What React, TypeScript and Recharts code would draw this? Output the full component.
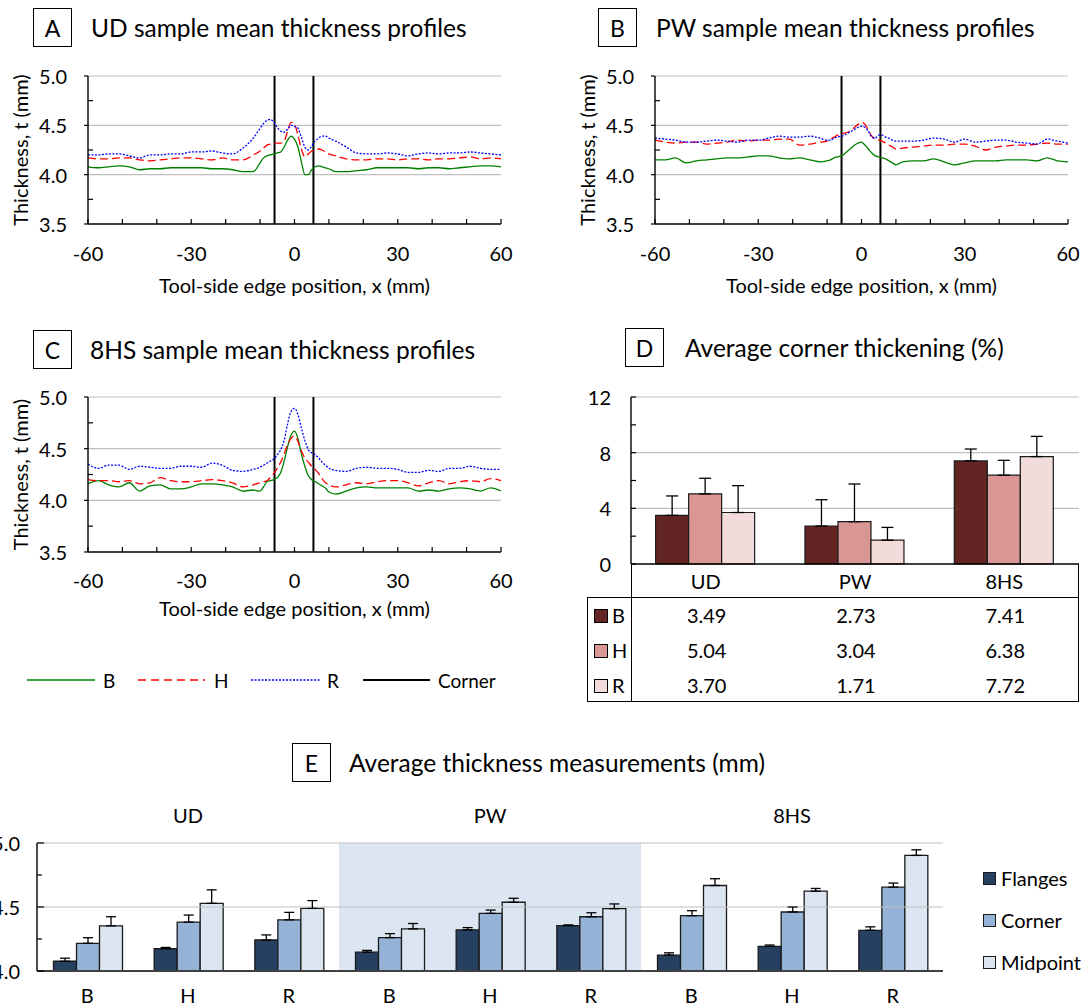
import React from "react";
import {
  Bar,
  BarChart,
  CartesianGrid,
  ErrorBar,
  Line,
  LineChart,
  ReferenceArea,
  ReferenceLine,
  XAxis,
  YAxis,
} from "recharts";

const FONT = "Lato, 'Liberation Sans', sans-serif";

// tool-side edge position (mm), shared by the three profile panels
const X_MM = [
  -60, -57, -54, -51, -48, -45, -42, -39, -36, -33, -30, -27, -24, -21, -18, -15, -12,
  -10, -9, -8, -7, -6, -5, -4, -3, -2, -1, 0, 1, 2, 3, 4, 5, 6, 7, 8, 9, 10,
  12, 15, 18, 21, 24, 27, 30, 33, 36, 39, 42, 45, 48, 51, 54, 57, 60,
];

// A: UD
const UD_B = [
  4.08, 4.07, 4.08, 4.09, 4.08, 4.05, 4.06, 4.06, 4.07, 4.07, 4.07, 4.07, 4.06, 4.06, 4.05, 4.03, 4.03,
  4.12, 4.17, 4.19, 4.2, 4.21, 4.22, 4.23, 4.28, 4.35, 4.39, 4.36, 4.28, 4.13, 4.0, 4.0, 4.05, 4.08, 4.09, 4.08, 4.07, 4.06,
  4.03, 4.03, 4.04, 4.05, 4.07, 4.07, 4.07, 4.07, 4.06, 4.07, 4.07, 4.06, 4.07, 4.08, 4.09, 4.09, 4.08,
];
const UD_H = [
  4.17, 4.16, 4.16, 4.17, 4.17, 4.15, 4.14, 4.15, 4.16, 4.17, 4.17, 4.16, 4.15, 4.17, 4.15, 4.15, 4.2,
  4.24, 4.27, 4.3, 4.31, 4.32, 4.32, 4.32, 4.34, 4.44, 4.53, 4.51, 4.4, 4.26, 4.18, 4.21, 4.24, 4.25, 4.26, 4.25, 4.23, 4.21,
  4.19, 4.16, 4.15, 4.15, 4.16, 4.16, 4.15, 4.16, 4.16, 4.15, 4.16, 4.16, 4.17, 4.18, 4.16, 4.17, 4.16,
];
const UD_R = [
  4.2, 4.2, 4.21, 4.21, 4.19, 4.17, 4.2, 4.2, 4.21, 4.21, 4.23, 4.23, 4.24, 4.22, 4.21, 4.27, 4.37,
  4.47, 4.52, 4.55, 4.56, 4.53, 4.48, 4.44, 4.43, 4.46, 4.5, 4.49, 4.47, 4.38, 4.28, 4.25, 4.29, 4.34, 4.37, 4.39, 4.39, 4.37,
  4.34, 4.28, 4.22, 4.21, 4.21, 4.22, 4.21, 4.19, 4.21, 4.22, 4.21, 4.22, 4.22, 4.23, 4.22, 4.21, 4.2,
];

// B: PW
const PW_B = [
  4.15, 4.15, 4.17, 4.12, 4.14, 4.15, 4.16, 4.17, 4.17, 4.18, 4.19, 4.19, 4.17, 4.16, 4.17, 4.15, 4.13,
  4.14, 4.15, 4.17, 4.18, 4.19, 4.21, 4.24, 4.27, 4.3, 4.32, 4.33, 4.3, 4.26, 4.22, 4.19, 4.18, 4.17, 4.16, 4.14, 4.12, 4.1,
  4.13, 4.14, 4.14, 4.16, 4.13, 4.1, 4.12, 4.14, 4.14, 4.14, 4.15, 4.15, 4.15, 4.14, 4.17, 4.14, 4.13,
];
const PW_H = [
  4.35, 4.33, 4.32, 4.33, 4.33, 4.31, 4.32, 4.33, 4.35, 4.34, 4.35, 4.35, 4.36, 4.36, 4.3, 4.31, 4.33,
  4.34, 4.36, 4.38, 4.4, 4.41, 4.42, 4.43, 4.45, 4.48, 4.51, 4.53, 4.51, 4.45, 4.39, 4.36, 4.35, 4.34, 4.32, 4.3, 4.28, 4.26,
  4.27, 4.28, 4.29, 4.3, 4.3, 4.31, 4.31, 4.29, 4.25, 4.28, 4.29, 4.3, 4.3, 4.31, 4.32, 4.31, 4.31,
];
const PW_R = [
  4.37, 4.36, 4.35, 4.33, 4.33, 4.34, 4.35, 4.34, 4.33, 4.35, 4.35, 4.37, 4.39, 4.38, 4.38, 4.39, 4.37,
  4.35, 4.35, 4.37, 4.38, 4.39, 4.4, 4.42, 4.44, 4.46, 4.48, 4.49, 4.48, 4.44, 4.38, 4.37, 4.4, 4.4, 4.38, 4.37, 4.35, 4.34,
  4.34, 4.34, 4.35, 4.37, 4.36, 4.33, 4.36, 4.33, 4.34, 4.35, 4.35, 4.33, 4.32, 4.31, 4.36, 4.34, 4.32,
];

// C: 8HS
const HS_B = [
  4.16, 4.19, 4.15, 4.13, 4.17, 4.09, 4.14, 4.15, 4.11, 4.11, 4.13, 4.16, 4.16, 4.15, 4.13, 4.09, 4.1,
  4.09, 4.13, 4.18, 4.19, 4.2, 4.22, 4.27, 4.38, 4.52, 4.63, 4.67, 4.6, 4.45, 4.33, 4.24, 4.2, 4.18, 4.16, 4.14, 4.12, 4.08,
  4.06, 4.09, 4.12, 4.13, 4.12, 4.12, 4.12, 4.12, 4.09, 4.1, 4.09, 4.11, 4.12, 4.11, 4.09, 4.12, 4.09,
];
const HS_H = [
  4.2, 4.19, 4.19, 4.18, 4.19, 4.16, 4.17, 4.22, 4.19, 4.18, 4.18, 4.19, 4.2, 4.19, 4.17, 4.13, 4.15,
  4.17, 4.18, 4.19, 4.22, 4.26, 4.31, 4.37, 4.45, 4.54, 4.6, 4.62, 4.57, 4.48, 4.41, 4.37, 4.33, 4.3, 4.26, 4.21, 4.17, 4.15,
  4.13, 4.15, 4.17, 4.16, 4.18, 4.19, 4.19, 4.17, 4.14, 4.17, 4.19, 4.16, 4.18, 4.19, 4.18, 4.21, 4.19,
];
const HS_R = [
  4.35, 4.31, 4.34, 4.34, 4.3, 4.33, 4.32, 4.31, 4.31, 4.33, 4.33, 4.32, 4.36, 4.34, 4.29, 4.28, 4.3,
  4.32, 4.34, 4.36, 4.38, 4.4, 4.44, 4.49, 4.58, 4.74, 4.86, 4.89, 4.83, 4.7, 4.58, 4.49, 4.46, 4.44, 4.41, 4.37, 4.34, 4.31,
  4.29, 4.28, 4.31, 4.32, 4.31, 4.31, 4.3, 4.27, 4.27, 4.29, 4.28, 4.31, 4.31, 4.33, 4.31, 4.3, 4.3,
];

const CORNER_X = [-5.8, 5.5];
const X_TICKS = [-60, -50, -40, -30, -20, -10, 0, 10, 20, 30, 40, 50, 60];
const T_TICKS = [3.5, 3.75, 4, 4.25, 4.5, 4.75, 5];

// D: corner thickening (%)
const GROUPS = ["UD", "PW", "8HS"];
const CT_B = [3.49, 2.73, 7.41];
const CT_H = [5.04, 3.04, 6.38];
const CT_R = [3.7, 1.71, 7.72];
const CT_ERR_B = [1.4, 1.89, 0.85];
const CT_ERR_H = [1.12, 2.71, 1.07];
const CT_ERR_R = [1.93, 0.92, 1.45];
const CT_TICKS = [0, 2, 4, 6, 8, 10, 12];

// E: average thickness (mm)
const SAMPLES = ["B", "H", "R", "B", "H", "R", "B", "H", "R"];
const FLANGES = [4.076, 4.174, 4.242, 4.147, 4.321, 4.355, 4.124, 4.192, 4.318];
const CORNER = [4.216, 4.382, 4.4, 4.261, 4.45, 4.424, 4.432, 4.461, 4.655];
const MIDPOINT = [4.353, 4.529, 4.489, 4.329, 4.537, 4.487, 4.668, 4.624, 4.903];
const FLANGES_ERR = [0.024, 0.01, 0.04, 0.014, 0.018, 0.005, 0.018, 0.011, 0.027];
const CORNER_ERR = [0.044, 0.055, 0.058, 0.031, 0.026, 0.031, 0.039, 0.039, 0.032];
const MIDPOINT_ERR = [0.071, 0.105, 0.061, 0.042, 0.031, 0.037, 0.053, 0.021, 0.044];
const AT_TICKS = [4, 4.25, 4.5, 4.75, 5];

const D_COLORS = { B: "#632523", H: "#d99694", R: "#f2dcdb" };
const E_COLORS = { F: "#254061", C: "#95b3d7", M: "#dce6f2" };

const txt = { fontFamily: FONT, fill: "#000" };

function Title({ left, top, letter, text, textLeft }: any) {
  return (
    <>
      <div
        style={{
          position: "absolute", left, top, width: 37, height: 37, border: "1px solid #000",
          display: "flex", alignItems: "center", justifyContent: "center",
          fontFamily: FONT, fontSize: 23, color: "#000",
        }}
      >
        {letter}
      </div>
      <div
        style={{
          position: "absolute", left: textLeft, top, height: 39, lineHeight: "39px",
          fontFamily: FONT, fontSize: 24.5, color: "#000", whiteSpace: "nowrap",
        }}
      >
        {text}
      </div>
    </>
  );
}

function ProfileXTick({ x, y, payload, dy }: any) {
  const v = payload.value;
  return (
    <g>
      <line x1={x} x2={x} y1={y} y2={y - 5} stroke="#000" strokeWidth={1.2} />
      {v % 30 === 0 && (
        <text x={x} y={y + dy} textAnchor="middle" dominantBaseline="central" fontSize={20} {...txt}>
          {v}
        </text>
      )}
    </g>
  );
}

function ProfileYTick({ x, y, payload }: any) {
  const v = payload.value;
  const major = Math.abs(v * 2 - Math.round(v * 2)) < 1e-6;
  if (!major) return <line x1={x} x2={x + 5} y1={y} y2={y} stroke="#000" strokeWidth={1.2} />;
  return (
    <g>
      <line x1={x - 4} x2={x} y1={y} y2={y} stroke="#000" strokeWidth={1.2} />
      <text x={x - 21} y={y} textAnchor="end" dominantBaseline="central" fontSize={20} {...txt}>
        {v.toFixed(1)}
      </text>
    </g>
  );
}

function Profile({ left, top, plotH, labelDy, titleDy, b, h, r }: any) {
  const data = X_MM.map((x, i) => ({ x, B: b[i], H: h[i], R: r[i] }));
  const axisH = 76;
  return (
    <div style={{ position: "absolute", left, top }}>
      <LineChart width={520} height={76 + plotH + axisH} data={data} margin={{ top: 76, right: 19, bottom: 0, left: 0 }}>
        <CartesianGrid vertical={false} horizontalValues={[4, 4.5, 5]} stroke="#bfbfbf" strokeWidth={1.2} />
        <XAxis
          type="number"
          dataKey="x"
          domain={[-60, 60]}
          ticks={X_TICKS}
          interval={0}
          height={axisH}
          tickSize={0}
          tickMargin={0}
          tickLine={false}
          axisLine={{ stroke: "#000", strokeWidth: 1.4 }}
          tick={(p: any) => <ProfileXTick {...p} dy={labelDy} />}
          label={{
            value: "Tool-side edge position, x (mm)",
            position: "insideTop",
            offset: titleDy - 8,
            fontSize: 20,
            fontFamily: FONT,
            fill: "#000",
          }}
        />
        <YAxis
          type="number"
          domain={[3.5, 5]}
          ticks={T_TICKS}
          interval={0}
          width={88}
          tickSize={0}
          tickMargin={0}
          tickLine={false}
          axisLine={{ stroke: "#000", strokeWidth: 1.4 }}
          tick={(p: any) => <ProfileYTick {...p} />}
          label={{
            value: "Thickness, t (mm)",
            angle: -90,
            position: "insideLeft",
            offset: 21,
            fontSize: 20,
            fontFamily: FONT,
            fill: "#000",
            style: { textAnchor: "middle" },
          }}
        />
        {CORNER_X.map((c) => (
          <ReferenceLine key={c} x={c} stroke="#000" strokeWidth={2} />
        ))}
        <Line type="monotone" dataKey="B" stroke="#008000" strokeWidth={1.3} dot={false} isAnimationActive={false} />
        <Line type="monotone" dataKey="H" stroke="#ff0000" strokeWidth={1.3} strokeDasharray="8 4" dot={false} isAnimationActive={false} />
        <Line type="monotone" dataKey="R" stroke="#0000ff" strokeWidth={1.3} strokeDasharray="2 1.5" dot={false} isAnimationActive={false} />
      </LineChart>
    </div>
  );
}

function ProfileLegend() {
  const items = [
    { x1: 27, x2: 95, color: "#008000", dash: undefined, w: 1.5, label: "B", lx: 103 },
    { x1: 138, x2: 205, color: "#ff0000", dash: "8 5", w: 1.5, label: "H", lx: 214 },
    { x1: 251, x2: 320, color: "#0000ff", dash: "2 1.5", w: 1.5, label: "R", lx: 327 },
    { x1: 363, x2: 430, color: "#000", dash: undefined, w: 2, label: "Corner", lx: 438 },
  ];
  return (
    <svg style={{ position: "absolute", left: 0, top: 665 }} width={520} height={30}>
      {items.map((it) => (
        <g key={it.label}>
          <line x1={it.x1} x2={it.x2} y1={15} y2={15} stroke={it.color} strokeWidth={it.w} strokeDasharray={it.dash} />
          <text x={it.lx} y={15} dominantBaseline="central" fontSize={19} {...txt}>
            {it.label}
          </text>
        </g>
      ))}
    </svg>
  );
}

function CtYTick({ x, y, payload }: any) {
  const v = payload.value;
  const major = v % 4 === 0;
  return (
    <g>
      <line x1={x} x2={x + 5} y1={y} y2={y} stroke="#000" strokeWidth={1.2} />
      {major && (
        <text x={x - 20} y={y} textAnchor="end" dominantBaseline="central" fontSize={20} {...txt}>
          {v}
        </text>
      )}
    </g>
  );
}

function CtXTick({ x, y, payload }: any) {
  return (
    <text x={x} y={y + 17} textAnchor="middle" dominantBaseline="central" fontSize={20} {...txt}>
      {payload.value}
    </text>
  );
}

function CornerThickening() {
  const data = GROUPS.map((g, i) => ({
    g,
    B: CT_B[i],
    H: CT_H[i],
    R: CT_R[i],
    eB: [0, CT_ERR_B[i]],
    eH: [0, CT_ERR_H[i]],
    eR: [0, CT_ERR_R[i]],
  }));
  const rows = [
    { key: "B", vals: CT_B },
    { key: "H", vals: CT_H },
    { key: "R", vals: CT_R },
  ] as const;
  return (
    <>
      <div style={{ position: "absolute", left: 580, top: 380 }}>
        <BarChart width={503} height={219} data={data} margin={{ top: 17, right: 4, bottom: 0, left: 0 }} barCategoryGap="16.5%" barGap={0}>
          <CartesianGrid vertical={false} horizontalValues={[4, 8, 12]} stroke="#bfbfbf" strokeWidth={1.2} />
          <XAxis dataKey="g" height={35} tickSize={0} tickMargin={0} tickLine={false} axisLine={{ stroke: "#000", strokeWidth: 1.4 }} tick={(p: any) => <CtXTick {...p} />} />
          <YAxis type="number" domain={[0, 12]} ticks={CT_TICKS} interval={0} width={51} tickSize={0} tickMargin={0} tickLine={false} axisLine={{ stroke: "#000", strokeWidth: 1.4 }} tick={(p: any) => <CtYTick {...p} />} />
          {rows.map((r) => (
            <Bar key={r.key} dataKey={r.key} fill={D_COLORS[r.key]} stroke="#1a1a1a" strokeWidth={1.2} isAnimationActive={false}>
              <ErrorBar dataKey={"e" + r.key} width={6} stroke="#000" strokeWidth={1.3} direction="y" />
            </Bar>
          ))}
        </BarChart>
      </div>
      {/* data table under panel D */}
      <div style={{ position: "absolute", left: 631, top: 564, width: 448, height: 33, borderLeft: "1px solid #000", borderRight: "1px solid #000", boxSizing: "border-box" }} />
      <div style={{ position: "absolute", left: 587, top: 597, width: 492, height: 105, border: "1px solid #000", boxSizing: "border-box", fontFamily: FONT, fontSize: 20, color: "#000" }}>
        <div style={{ position: "absolute", left: 43, top: 0, width: 1, height: 103, background: "#000" }} />
        {rows.map((r, ri) => (
          <div key={r.key} style={{ position: "absolute", left: 0, top: ri * 35, width: 490, height: 35 }}>
            <div style={{ position: "absolute", left: 6, top: 11, width: 12, height: 12, background: D_COLORS[r.key], border: "1px solid #000" }} />
            <div style={{ position: "absolute", left: 24, top: 0, lineHeight: "35px" }}>{r.key}</div>
            {r.vals.map((v, ci) => (
              <div key={ci} style={{ position: "absolute", left: 44 + ci * 149.3, width: 149.3, top: 0, lineHeight: "35px", textAlign: "center" }}>
                {v.toFixed(2)}
              </div>
            ))}
          </div>
        ))}
      </div>
    </>
  );
}

function AtYTick({ x, y, payload }: any) {
  const v = payload.value;
  const major = Math.abs(v * 2 - Math.round(v * 2)) < 1e-6;
  return (
    <g>
      <line x1={x} x2={x + (major ? 7 : 5)} y1={y} y2={y} stroke="#000" strokeWidth={1.2} />
      {major && (
        <text x={x - 17} y={y} textAnchor="end" dominantBaseline="central" fontSize={20} {...txt}>
          {v.toFixed(1)}
        </text>
      )}
    </g>
  );
}

function AtXTick({ x, y, payload }: any) {
  return (
    <text x={x} y={y + 24} textAnchor="middle" dominantBaseline="central" fontSize={20} {...txt}>
      {SAMPLES[payload.index]}
    </text>
  );
}

function GroupTick({ x, y, payload }: any) {
  if (payload.index % 3 !== 1) return <g />;
  return (
    <text x={x} y={y - 28} textAnchor="middle" dominantBaseline="central" fontSize={20} {...txt}>
      {GROUPS[Math.floor(payload.index / 3)]}
    </text>
  );
}

function AverageThickness() {
  const data = SAMPLES.map((s, i) => ({
    id: GROUPS[Math.floor(i / 3)] + "-" + s,
    F: FLANGES[i],
    C: CORNER[i],
    M: MIDPOINT[i],
    eF: [0, FLANGES_ERR[i]],
    eC: [0, CORNER_ERR[i]],
    eM: [0, MIDPOINT_ERR[i]],
  }));
  const series = [
    { key: "F", label: "Flanges" },
    { key: "C", label: "Corner" },
    { key: "M", label: "Midpoint" },
  ] as const;
  return (
    <>
      <div style={{ position: "absolute", left: 0, top: 800 }}>
        <BarChart width={950} height={206} data={data} margin={{ top: 0, right: 7, bottom: 0, left: 0 }} barCategoryGap="16.4%" barGap={0}>
          <ReferenceArea x1={data[3].id} x2={data[5].id} fill="#dce6f2" fillOpacity={1} stroke="none" />
          <ReferenceLine y={4.5} stroke="#bfbfbf" strokeWidth={1.2} />
          <ReferenceLine y={5} stroke="#bfbfbf" strokeWidth={1.2} />
          <XAxis dataKey="id" height={35} interval={0} tickSize={0} tickMargin={0} tickLine={false} axisLine={{ stroke: "#404040", strokeWidth: 2 }} tick={(p: any) => <AtXTick {...p} />} />
          <XAxis xAxisId="grp" dataKey="id" orientation="top" height={43} interval={0} tickSize={0} tickMargin={0} tickLine={false} axisLine={false} tick={(p: any) => <GroupTick {...p} />} />
          <YAxis type="number" domain={[4, 5]} ticks={AT_TICKS} interval={0} width={37} tickSize={0} tickMargin={0} tickLine={false} axisLine={{ stroke: "#000", strokeWidth: 1.4 }} tick={(p: any) => <AtYTick {...p} />} allowDataOverflow />
          {series.map((s) => (
            <Bar key={s.key} dataKey={s.key} fill={E_COLORS[s.key]} stroke="#1a1a1a" strokeWidth={1.3} isAnimationActive={false}>
              <ErrorBar dataKey={"e" + s.key} width={5} stroke="#000" strokeWidth={1.3} direction="y" />
            </Bar>
          ))}
        </BarChart>
      </div>
      {series.map((s, i) => (
        <div key={s.key} style={{ position: "absolute", left: 983, top: 866 + i * 42, height: 24, display: "flex", alignItems: "center", fontFamily: FONT, fontSize: 20, color: "#000" }}>
          <div style={{ width: 11, height: 11, background: E_COLORS[s.key], border: "1px solid #1a1a1a", marginRight: 5 }} />
          {s.label}
        </div>
      ))}
    </>
  );
}

export default function App() {
  return (
    <div style={{ position: "absolute", left: 0, top: 0, width: 1083, height: 1006, overflow: "hidden", background: "#fff" }}>
      <Title left={33} top={8} letter="A" text="UD sample mean thickness profiles" textLeft={91} />
      <Title left={598} top={8} letter="B" text="PW sample mean thickness profiles" textLeft={656} />
      <Title left={33} top={330} letter="C" text="8HS sample mean thickness profiles" textLeft={90} />
      <Title left={625} top={328} letter="D" text="Average corner thickening (%)" textLeft={685} />
      <Title left={292} top={743} letter="E" text="Average thickness measurements (mm)" textLeft={349} />

      <Profile left={0} top={0} plotH={148} labelDy={29} titleDy={63} b={UD_B} h={UD_H} r={UD_R} />
      <Profile left={567} top={0} plotH={148} labelDy={29} titleDy={63} b={PW_B} h={PW_H} r={PW_R} />
      <Profile left={0} top={321} plotH={155} labelDy={28} titleDy={58} b={HS_B} h={HS_H} r={HS_R} />
      <ProfileLegend />

      <CornerThickening />
      <AverageThickness />
    </div>
  );
}
